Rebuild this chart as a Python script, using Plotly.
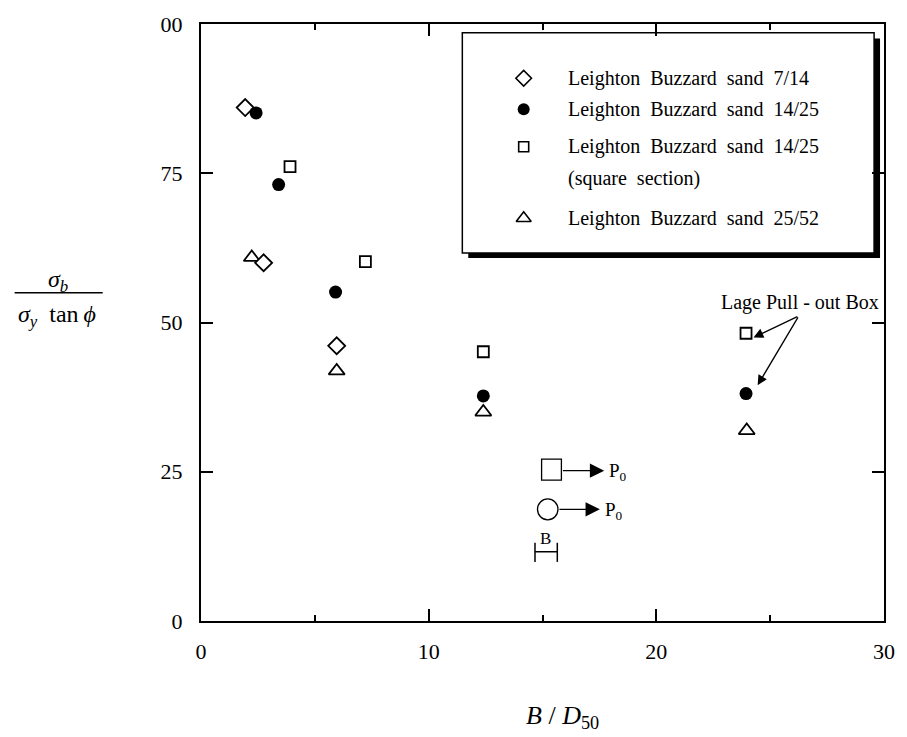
import plotly.graph_objects as go

FONT = "Liberation Serif"

# ---- data ----
x_7_14 = [1.94, 2.75, 5.96]
y_7_14 = [86.0, 60.0, 46.1]
x_14_25 = [2.42, 3.41, 5.91, 12.4, 23.94]
y_14_25 = [85.1, 73.1, 55.1, 37.7, 38.1]
x_14_25_sq = [3.91, 7.22, 12.4, 23.94]
y_14_25_sq = [76.1, 60.2, 45.1, 48.2]
x_25_52 = [2.23, 5.96, 12.4, 23.97]
y_25_52 = [60.9, 41.9, 35.0, 31.9]

legend_labels = [
    "Leighton\u00a0 Buzzard\u00a0 sand\u00a0 7/14",
    "Leighton\u00a0 Buzzard\u00a0 sand\u00a0 14/25",
    "Leighton\u00a0 Buzzard\u00a0 sand\u00a0 14/25",
    "(square\u00a0 section)",
    "Leighton\u00a0 Buzzard\u00a0 sand\u00a0 25/52",
]
x_ticks = [0, 10, 20, 30]
y_tickvals = [0, 25, 50, 75, 100]
y_ticktext = ["0", "25", "50", "75", "00"]

fig = go.Figure()

mline = dict(color="black", width=1.8)
fig.add_trace(go.Scatter(x=x_25_52, y=y_25_52, mode="markers", showlegend=False,
                         marker=dict(symbol="triangle-up", size=14, color="white", line=mline)))
fig.add_trace(go.Scatter(x=x_7_14, y=y_7_14, mode="markers", showlegend=False,
                         marker=dict(symbol="diamond", size=13, color="white", line=mline)))
fig.add_trace(go.Scatter(x=x_14_25, y=y_14_25, mode="markers", showlegend=False,
                         marker=dict(symbol="circle", size=13, color="black", line=dict(width=0))))
fig.add_trace(go.Scatter(x=x_14_25_sq, y=y_14_25_sq, mode="markers", showlegend=False,
                         marker=dict(symbol="square", size=11, color="white", line=mline)))

# ---- manual legend (paper coordinates via overlay axes) ----
W, H, L, T = 690.0, 597.0, 201.0, 24.0
def px(xpix):
    return (xpix - L) / W
def py(ypix):
    return (T + H - ypix) / H

leg_sym_x = px(527)
leg_rows = [py(78.3), py(109.3), py(146.7), py(218.3)]
leg_syms = [("diamond", 12, "white"), ("circle", 12, "black"),
            ("square", 10, "white"), ("triangle-up", 13, "white")]
for (sym, sz, col), yy in zip(leg_syms, leg_rows):
    fig.add_trace(go.Scatter(x=[leg_sym_x], y=[yy], mode="markers", showlegend=False,
                             xaxis="x2", yaxis="y2", hoverinfo="skip",
                             marker=dict(symbol=sym, size=sz, color=col,
                                         line=dict(color="black", width=1.6 if col == "white" else 0))))

text_rows = [py(78.3), py(109.3), py(146.7), py(178.3), py(218.3)]
annotations = []
for lab, yy in zip(legend_labels, text_rows):
    annotations.append(dict(x=px(570), y=yy, xref="paper", yref="paper", text=lab,
                            showarrow=False, xanchor="left", yanchor="middle",
                            font=dict(family=FONT, size=20, color="black")))

shapes = [
    dict(type="rect", xref="paper", yref="paper", x0=px(471), x1=px(887), y0=py(258), y1=py(38.5),
         fillcolor="black", line=dict(width=0), layer="below"),
    dict(type="rect", xref="paper", yref="paper", x0=px(465), x1=px(881), y0=py(253), y1=py(32.7),
         fillcolor="white", line=dict(color="black", width=1.5), layer="below"),
]

# ---- schematic (P0 sketch) ----
shapes += [
    dict(type="rect", xref="x", yref="y", x0=14.96, x1=15.83, y0=23.6, y1=27.1,
         line=dict(color="black", width=1.3), fillcolor="rgba(0,0,0,0)"),
    dict(type="circle", xref="x", yref="y", x0=14.78, x1=15.68, y0=16.95, y1=20.45,
         line=dict(color="black", width=1.3)),
    dict(type="line", xref="x", yref="y", x0=14.67, x1=15.65, y0=11.6, y1=11.6,
         line=dict(color="black", width=1.5)),
    dict(type="line", xref="x", yref="y", x0=14.67, x1=14.67, y0=9.9, y1=13.1,
         line=dict(color="black", width=1.5)),
    dict(type="line", xref="x", yref="y", x0=15.65, x1=15.65, y0=9.9, y1=13.1,
         line=dict(color="black", width=1.5)),
]
arrows = [((15.83, 25.18), (17.71, 25.18)), ((15.68, 18.71), (17.52, 18.71)),
          ((26.26, 51.1), (24.27, 47.5)), ((26.26, 51.1), (24.45, 39.5))]
for i, ((ax0, ay0), (ax1, ay1)) in enumerate(arrows):
    big = i < 2
    annotations.append(dict(x=ax1, y=ay1, ax=ax0, ay=ay0, xref="x", yref="y", axref="x", ayref="y",
                            text="", showarrow=True, arrowhead=2, arrowsize=2.2 if big else 1.5,
                            arrowwidth=1.3, arrowcolor="black", standoff=0, startstandoff=0))
annotations += [
    dict(x=17.85, y=25.0, xref="x", yref="y", text="P<sub>0</sub>", showarrow=False,
         xanchor="left", yanchor="middle", font=dict(family=FONT, size=19, color="black")),
    dict(x=17.66, y=18.5, xref="x", yref="y", text="P<sub>0</sub>", showarrow=False,
         xanchor="left", yanchor="middle", font=dict(family=FONT, size=19, color="black")),
    dict(x=15.14, y=13.9, xref="x", yref="y", text="B", showarrow=False,
         xanchor="center", yanchor="middle", font=dict(family=FONT, size=17, color="black")),
    dict(x=26.3, y=53.3, xref="x", yref="y", text="Lage Pull - out Box", showarrow=False,
         xanchor="center", yanchor="middle", font=dict(family=FONT, size=20, color="black")),
]

# ---- axis titles ----
annotations += [
    dict(x=px(57), y=py(281), xref="paper", yref="paper", text="<i>σ</i><sub><i>b</i></sub>",
         showarrow=False, xanchor="center", yanchor="middle",
         font=dict(family=FONT, size=24, color="black")),
    dict(x=px(55.5), y=py(316), xref="paper", yref="paper",
         text="<i>σ</i><sub><i>y</i></sub>\u00a0 tan<i>\u2009ϕ</i>",
         showarrow=False, xanchor="center", yanchor="middle",
         font=dict(family=FONT, size=24, color="black")),
    dict(x=px(566), y=py(717), xref="paper", yref="paper", text="<i>B</i> / <i>D</i><sub>50</sub>",
         showarrow=False, xanchor="center", yanchor="middle",
         font=dict(family=FONT, size=26, color="black")),
]
shapes.append(dict(type="line", xref="paper", yref="paper", x0=px(12.7), x1=px(101.7),
                   y0=py(292.7), y1=py(292.7), line=dict(color="black", width=1.5)))

fig.update_layout(
    width=907, height=737,
    margin=dict(l=201, r=16, t=24, b=116),
    paper_bgcolor="white", plot_bgcolor="white",
    showlegend=False,
    font=dict(family=FONT, size=22, color="black"),
    xaxis=dict(range=[0, 30], tickvals=x_ticks, ticks="inside", ticklen=12, tickwidth=1.5,
               tickcolor="black", showline=True, linewidth=2, linecolor="black", mirror="ticks",
               showgrid=False, zeroline=False, ticklabelstandoff=10,
               minor=dict(tickvals=[5, 15, 25], ticks="inside", ticklen=6, tickwidth=1.5,
                          tickcolor="black", showgrid=False)),
    yaxis=dict(range=[0, 100], tickvals=y_tickvals, ticktext=y_ticktext, ticks="inside",
               ticklen=12, tickwidth=1.5, tickcolor="black", showline=True, linewidth=2,
               linecolor="black", mirror="ticks", showgrid=False, zeroline=False,
               ticklabelstandoff=12),
    xaxis2=dict(range=[0, 1], overlaying="x", visible=False, fixedrange=True),
    yaxis2=dict(range=[0, 1], overlaying="y", visible=False, fixedrange=True),
    shapes=shapes,
    annotations=annotations,
)

fig.write_html("out.html")
